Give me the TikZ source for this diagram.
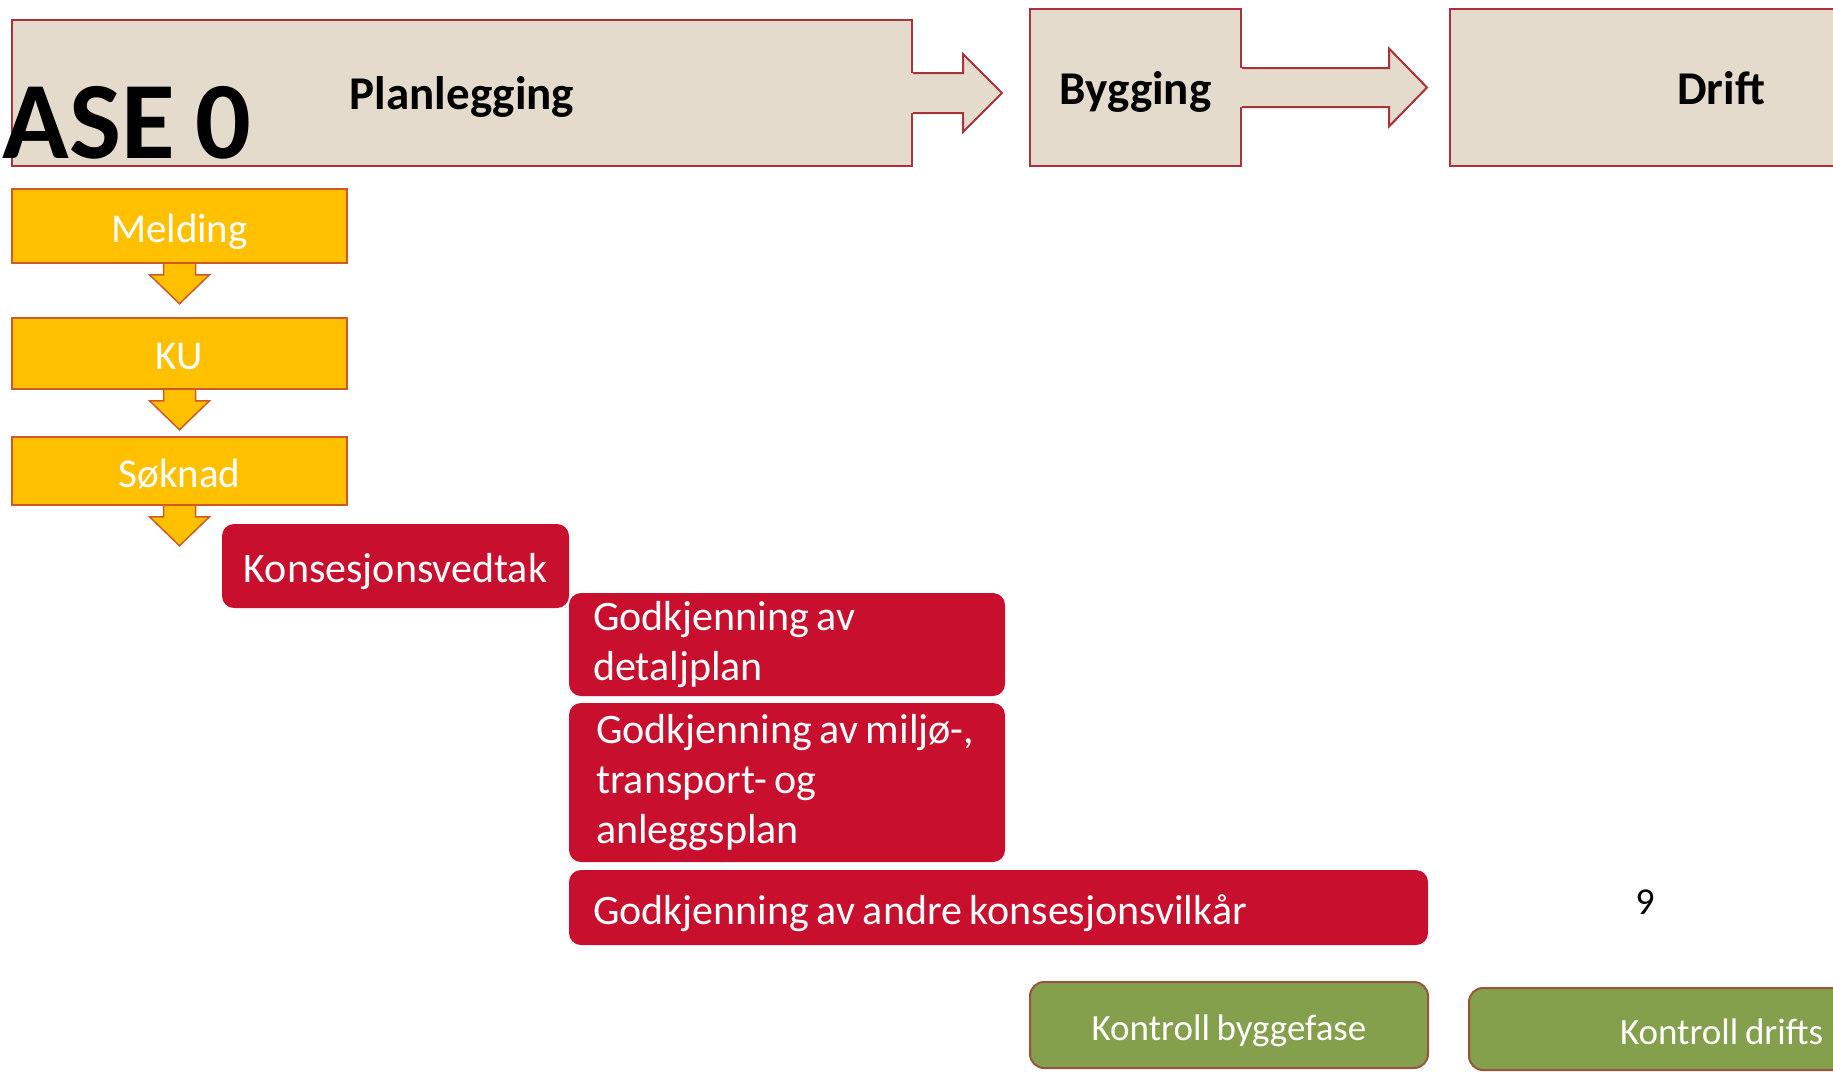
\documentclass[tikz,border=0pt]{standalone}
\usepackage{fontspec}
\setmainfont{Carlito}[WordSpace=0.8]
\usetikzlibrary{calc}
\pgfdeclarelayer{background}
\pgfsetlayers{background,main}

\definecolor{topfill}{RGB}{228,219,204}
\definecolor{topline}{RGB}{170,50,60}
\definecolor{yfill}{RGB}{255,192,0}
\definecolor{yline}{RGB}{205,90,40}
\definecolor{rfill}{RGB}{200,16,46}
\definecolor{gfill}{RGB}{132,160,76}
\definecolor{gline}{RGB}{150,85,60}

\tikzset{
 topbox/.style={draw=topline, fill=topfill, line width=2pt, inner sep=0pt,
   font=\fontsize{47}{56}\selectfont\bfseries, text=black,
   text height=33pt, text depth=0pt},
 topline/.style={draw=topline, line width=2pt, line join=miter},
 ybox/.style={draw=yline, fill=yfill, line width=1.5pt, minimum width=335pt,
   inner sep=0pt, font=\fontsize{41}{48}\selectfont, text=white,
   text height=32pt, text depth=0pt},
 rbox/.style={fill=rfill, rounded corners=12pt, inner sep=0pt,
   font=\fontsize{42}{50}\selectfont, text=white},
 oneline/.style={text height=33.6pt, text depth=0pt},
 rleft/.style={rbox, align=flush left, inner xsep=24pt, inner ysep=0pt},
 gbox/.style={draw=gline, fill=gfill, line width=2pt, rounded corners=14pt,
   font=\fontsize{37}{44}\selectfont, text=white, inner sep=0pt,
   text height=30.5pt, text depth=0pt},
 yarrow/.style={draw=yline, fill=yfill, line width=1.5pt, line join=miter},
}

\newcommand\myYarrow[1]{%
  \draw[yarrow] ($(#1.south)+(-16,-6)$) -- ($(#1.south)+(-16,11)$)
    -- ($(#1.south)+(-30,11)$) -- ($(#1.south)+(0,40)$)
    -- ($(#1.south)+(30,11)$) -- ($(#1.south)+(16,11)$)
    -- ($(#1.south)+(16,-6)$) -- cycle;}

\begin{document}
\begin{tikzpicture}[x=1pt,y=-1pt]
\useasboundingbox (0,0) rectangle (1833,1071);
\clip (0,0) rectangle (1833,1071);

% top phase boxes
\node[topbox, minimum width=900pt, minimum height=146pt] (plan) at (462,93) {Planlegging};
\node[topbox, minimum width=211pt, minimum height=157pt] (byg) at (1135.5,87.5) {Bygging};
\node[topbox, minimum width=542pt, minimum height=157pt] (drift) at (1721,87.5) {Drift};

\node[font=\fontsize{110}{120}\selectfont\bfseries, text=black, inner sep=0pt, anchor=base east] (fase) at (251,158) {ASE 0};

% block arrows between phases
\coordinate (t1) at ($(byg.west |- plan.east)+(-27,0)$);
\fill[topfill] ($(plan.east)+(-2,-20)$) -- ($(t1)+(-39,-20)$) -- ($(t1)+(-39,-39)$) -- (t1)
   -- ($(t1)+(-39,39)$) -- ($(t1)+(-39,20)$) -- ($(plan.east)+(-2,20)$) -- cycle;
\draw[topline] ($(plan.east)+(0,-20)$) -- ($(t1)+(-39,-20)$) -- ($(t1)+(-39,-39)$) -- (t1)
   -- ($(t1)+(-39,39)$) -- ($(t1)+(-39,20)$) -- ($(plan.east)+(0,20)$);

\coordinate (t2) at ($(drift.west |- byg.east)+(-22,0)$);
\fill[topfill] ($(byg.east)+(-2,-19.5)$) -- ($(t2)+(-38,-19.5)$) -- ($(t2)+(-38,-39)$) -- (t2)
   -- ($(t2)+(-38,39)$) -- ($(t2)+(-38,19.5)$) -- ($(byg.east)+(-2,19.5)$) -- cycle;
\draw[topline] ($(byg.east)+(0,-19.5)$) -- ($(t2)+(-38,-19.5)$) -- ($(t2)+(-38,-39)$) -- (t2)
   -- ($(t2)+(-38,39)$) -- ($(t2)+(-38,19.5)$) -- ($(byg.east)+(0,19.5)$);

% yellow steps
\node[ybox, minimum height=74pt] (meld) at (179.5,226) {Melding};
\node[ybox, minimum height=71pt] (ku) at (179.5,353.5) {KU};
\node[ybox, minimum height=68pt] (sok) at (179.5,471) {Søknad};

\begin{pgfonlayer}{background}
\myYarrow{meld}
\myYarrow{ku}
\myYarrow{sok}
\end{pgfonlayer}

% red boxes
\node[rbox, oneline, minimum width=347pt, minimum height=84pt] (kons) at (395.5,566) {Konsesjonsvedtak};
\node[rleft, text width=388pt, minimum height=103pt] (det) at (787,644.5) {Godkjenning av\\detaljplan};
\node[rleft, text width=388pt, minimum height=159pt] (mil) at (787,782.5) {\hspace*{3pt}Godkjenning av \mbox{miljø-,}\\\hspace*{3pt}transport- og\\\hspace*{3pt}anleggsplan};
\node[rleft, oneline, text width=811pt, minimum height=75pt] (andre) at (998.5,907.5) {Godkjenning av andre konsesjonsvilkår};

\node[font=\fontsize{38}{44}\selectfont, text=black, inner sep=0pt] (nine) at (1645,902) {9};

% green boxes
\node[gbox, minimum width=398pt, minimum height=86pt] (kb) at (1229,1025) {Kontroll byggefase};
\node[gbox, anchor=west, text width=400pt, align=flush left, inner xsep=151pt, minimum height=82pt] (kd) at (1468,1029) {Kontroll drifts};

\end{tikzpicture}
\end{document}
